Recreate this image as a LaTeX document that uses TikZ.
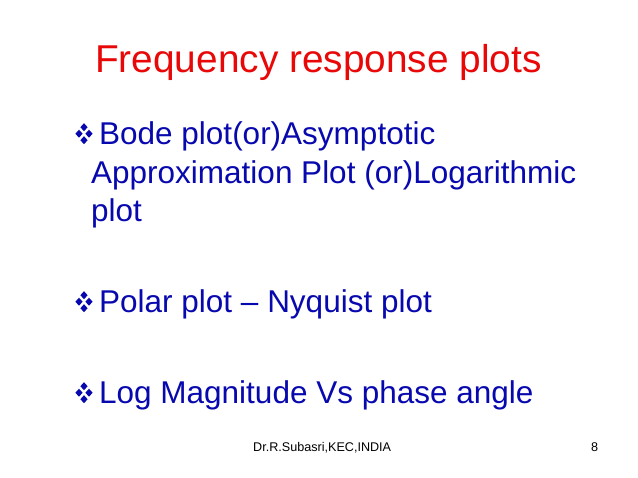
\documentclass[tikz,border=0pt]{standalone}
\usepackage{fontspec}
\setmainfont{Liberation Sans}
\usetikzlibrary{positioning}

\definecolor{titlered}{RGB}{232,8,8}
\definecolor{bodyblue}{RGB}{8,8,175}

\tikzset{
  titletext/.style={inner sep=0pt, anchor=base west, text=titlered, font=\fontsize{38.8}{44}\selectfont},
  bodytext/.style={inner sep=0pt, anchor=base west, text=bodyblue, font=\fontsize{31.5}{36}\selectfont},
  foottext/.style={inner sep=0pt, anchor=base west, text=black, font=\fontsize{12.6}{15}\selectfont}
}

\begin{document}
\begin{tikzpicture}[x=1pt, y=-1pt]

%page frame
\useasboundingbox (0,0) rectangle (638,478);
\fill[white] (0,0) rectangle (638,478);

%title
\node[titletext] (title) at (95,73) {Frequency response plots};

%first bullet
\coordinate (bulA) at (84,133.7);
\node[bodytext] (bode) at (99,145) {Bode plot(or)Asymptotic};
\node[bodytext] (approx) at (91,184) {Approximation Plot (or)Logarithmic};
\node[bodytext] (plotline) at (91,222) {plot};

%second bullet
\coordinate (bulB) at (84,301.7);
\node[bodytext] (polar) at (99,313) {Polar plot -- Nyquist plot};

%third bullet
\coordinate (bulC) at (84,392.7);
\node[bodytext] (logmag) at (99,404) {Log Magnitude Vs phase angle};

%draw the four-diamond bullets
\foreach \b in {bulA,bulB,bulC}
\foreach \dx/\dy in {-5/0,5/0,0/-6.5,0/6.5}
\fill[bodyblue] ([shift={(\dx,\dy)}]\b) +(-3.6,0) -- +(0,-4) -- +(3.6,0) -- +(0,4) -- cycle;

%footer
\node[foottext] (footer) at (253,452) {Dr.R.Subasri,KEC,INDIA};
\node[foottext] (pagenum) at (591,452) {8};

\end{tikzpicture}
\end{document}
